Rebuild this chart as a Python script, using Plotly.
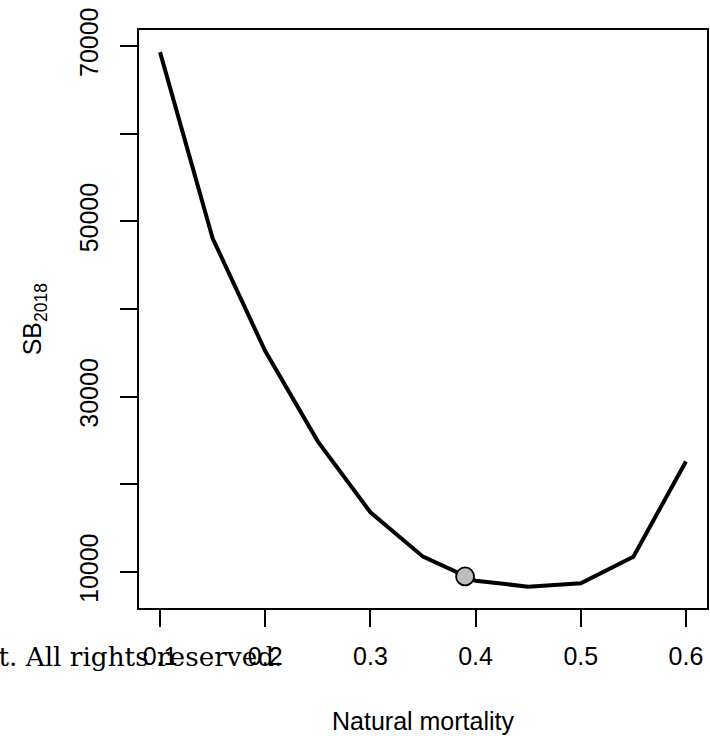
import plotly.graph_objects as go

# Data
mortality = [0.1, 0.15, 0.2, 0.25, 0.3, 0.35, 0.4, 0.45, 0.5, 0.55, 0.6]
sb2018 = [69300, 48070, 35200, 24900, 16810, 11750, 9000, 8330, 8710, 11750, 22600]
point_m = [0.39]
point_sb = [9500]

x_ticks = [0.1, 0.2, 0.3, 0.4, 0.5, 0.6]
x_ticktext = ["0.1", "0.2", "0.3", "0.4", "0.5", "0.6"]
y_ticks = [10000, 30000, 50000, 70000]
y_ticktext = ["10000", "30000", "50000", "70000"]
y_minor_ticks = [20000, 40000, 60000]

W, H = 710, 736
L, R, T, B = 139, 1, 30, 128
PW, PH = W - L - R, H - T - B

FONT = "Liberation Sans, Arial, sans-serif"

fig = go.Figure()
fig.add_trace(go.Scatter(x=mortality, y=sb2018, mode="lines",
                         line=dict(color="black", width=4), showlegend=False))
fig.add_trace(go.Scatter(x=point_m, y=point_sb, mode="markers",
                         marker=dict(size=18, color="#BEBEBE",
                                     line=dict(color="black", width=1.8)),
                         showlegend=False))

def px_x(p):
    return (p - L) / PW

def px_y(p):
    return (T + PH - p) / PH

fig.update_layout(
    width=W, height=H,
    margin=dict(l=L, r=R, t=T, b=B),
    paper_bgcolor="white", plot_bgcolor="white",
    font=dict(family=FONT, size=25, color="black"),
    xaxis=dict(range=[0.08, 0.62], tickvals=x_ticks, ticktext=x_ticktext,
               showgrid=False, zeroline=False, showline=True, mirror=True,
               linecolor="black", linewidth=2, ticks="outside", ticklen=17,
               tickwidth=2, tickcolor="black", ticklabelstandoff=8),
    yaxis=dict(range=[5894, 71825], tickvals=y_ticks, ticktext=y_ticktext,
               tickangle=-90, showgrid=False, zeroline=False, showline=True,
               mirror=True, linecolor="black", linewidth=2, ticks="outside",
               ticklen=17, tickwidth=2, tickcolor="black", ticklabelstandoff=12,
               minor=dict(tickvals=y_minor_ticks, ticks="outside", ticklen=17,
                          tickwidth=2, tickcolor="black", showgrid=False)),
    annotations=[
        dict(text="Natural mortality", xref="paper", yref="paper",
             x=0.5, y=px_y(721), xanchor="center", yanchor="middle",
             showarrow=False, font=dict(family=FONT, size=25)),
        dict(text="SB<sub>2018</sub>", xref="paper", yref="paper",
             x=px_x(34), y=0.5, xanchor="center", yanchor="middle",
             textangle=-90, showarrow=False, font=dict(family=FONT, size=25)),
        dict(text="Copyright. All rights reserved.", xref="paper", yref="paper",
             x=px_x(285), y=px_y(657), xanchor="right", yanchor="middle",
             showarrow=False,
             font=dict(family="DejaVu Serif, Liberation Serif, serif", size=26.3)),
    ],
)

fig.write_html("out.html")
